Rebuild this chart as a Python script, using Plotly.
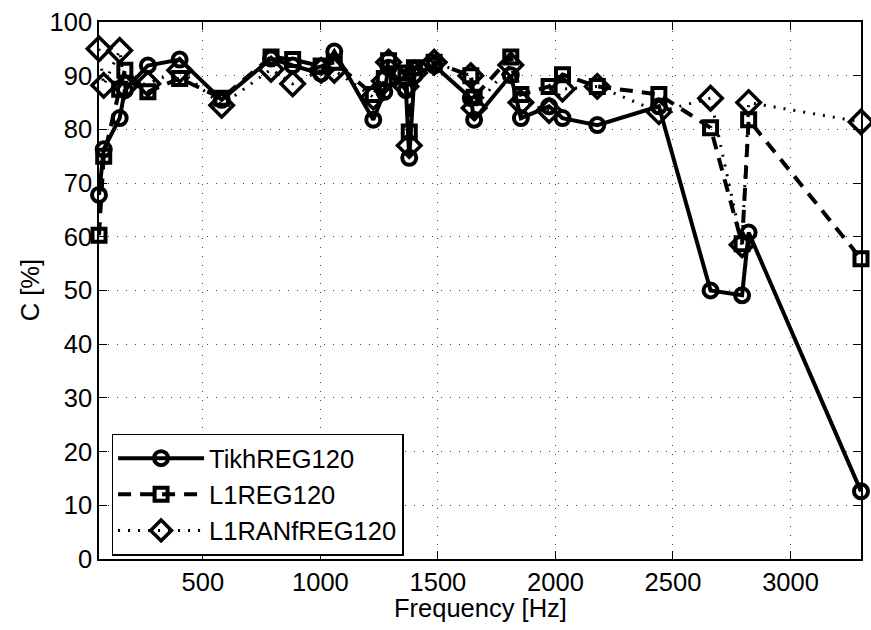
import plotly.graph_objects as go

freq = [58, 78, 146, 168, 266, 401, 580, 790, 882, 1003, 1059, 1225, 1272, 1290,
        1364, 1378, 1400, 1484, 1640, 1654, 1810, 1853, 1973, 2030, 2178, 2440,
        2660, 2794, 2822, 3300]

tikh = [67.8, 76.3, 82.1, 87.3, 91.9, 93.0, 85.5, 93.2, 91.9, 90.4, 94.5, 81.8, 87.0, 91.5,
        87.3, 74.7, 90.1, 91.9, 85.8, 81.8, 90.1, 82.1, 84.3, 82.1, 80.8, 84.3,
        50.0, 49.1, 60.8, 12.6]

l1reg = [60.3, 75.0, 87.5, 91.0, 87.0, 89.5, 85.8, 93.5, 93.0, 91.8, 92.5, 86.5, 89.5, 92.8,
         90.5, 79.5, 91.5, 92.5, 90.0, 86.0, 93.5, 86.5, 88.0, 90.2, 88.0, 86.5,
         80.3, 58.7, 81.8, 55.9]

l1ranf = [95.0, 88.2, 94.7, 88.0, 88.5, 91.0, 84.5, 91.2, 88.5, 91.0, 91.0, 86.0, 89.0, 92.5,
          88.0, 77.0, 90.5, 92.5, 90.0, 84.0, 92.0, 85.0, 83.5, 87.5, 88.0, 83.3,
          85.8, 58.5, 85.0, 81.4]

names = ["TikhREG120", "L1REG120", "L1RANfREG120"]
x_ticks = [500, 1000, 1500, 2000, 2500, 3000]
y_ticks = [0, 10, 20, 30, 40, 50, 60, 70, 80, 90, 100]

FONT = "Liberation Sans, Arial, Helvetica, sans-serif"
FS = 25.5

fig = go.Figure()
fig.add_trace(go.Scatter(
    x=freq, y=tikh, name=names[0], mode="lines+markers", cliponaxis=False,
    line=dict(color="black", width=4, dash="solid"),
    marker=dict(symbol="circle-open", size=14, color="black", line=dict(width=4, color="black")),
))
fig.add_trace(go.Scatter(
    x=freq, y=l1reg, name=names[1], mode="lines+markers", cliponaxis=False,
    line=dict(color="black", width=4, dash="13px,9px"),
    marker=dict(symbol="square-open", size=13, color="black", line=dict(width=4, color="black")),
))
fig.add_trace(go.Scatter(
    x=freq, y=l1ranf, name=names[2], mode="lines+markers", cliponaxis=False,
    line=dict(color="black", width=3, dash="2px,8px"),
    marker=dict(symbol="diamond-open", size=18, color="black", line=dict(width=3.5, color="black")),
))

axis_common = dict(
    showline=True, linecolor="black", linewidth=1.5, mirror="allticks",
    ticks="inside", ticklen=8, tickcolor="black", tickwidth=1,
    showgrid=True, gridcolor="#444444", gridwidth=1, griddash="1px,8px",
    zeroline=False,
    tickfont=dict(family=FONT, size=FS, color="black"),
)

fig.update_xaxes(range=[58, 3300], tickvals=x_ticks,
                 ticktext=[str(v) for v in x_ticks], **axis_common)
fig.update_yaxes(range=[0, 100], tickvals=y_ticks,
                 ticktext=[str(v) for v in y_ticks], **axis_common)

fig.add_annotation(text="Frequency [Hz]", xref="paper", yref="paper",
                   x=0.5, y=-0.0906, xanchor="center", yanchor="middle",
                   showarrow=False, font=dict(family=FONT, size=FS, color="black"))
fig.add_annotation(text="C [%]", xref="paper", yref="paper",
                   x=-0.0908, y=0.5, xanchor="center", yanchor="middle", textangle=-90,
                   showarrow=False, font=dict(family=FONT, size=FS, color="black"))

fig.update_layout(
    width=871, height=630,
    margin=dict(l=99, r=8, t=18, b=71),
    paper_bgcolor="white", plot_bgcolor="white",
    font=dict(family=FONT, size=FS, color="black"),
    showlegend=True,
    legend=dict(
        x=0.0165, y=0.12, xanchor="left", yanchor="middle",
        bgcolor="white", bordercolor="black", borderwidth=1.5,
        font=dict(family=FONT, size=FS, color="black"),
        itemwidth=86, tracegroupgap=0,
    ),
)

fig.write_html("out.html",
               config={"displayModeBar": False},
               post_script="document.body.style.margin='0';document.body.style.overflow='hidden';")
